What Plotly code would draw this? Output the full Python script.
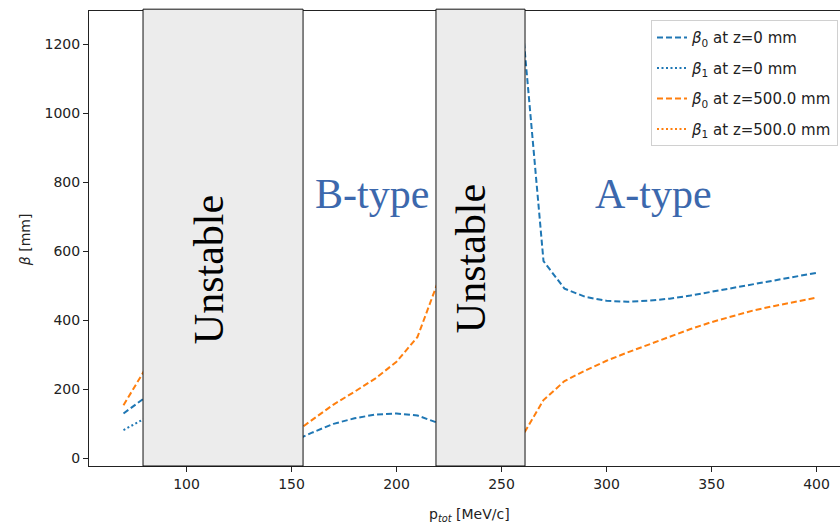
import plotly.graph_objects as go

# ---- data ----
p_tot = [70, 80, 150, 160, 170, 180, 190, 200, 210, 220, 260, 270, 280, 290,
         300, 310, 320, 330, 340, 350, 360, 370, 380, 390, 400]
beta0_z0 = [130, 175, 47, 75, 100, 116, 127, 130, 124, 102, 1255, 572, 492, 468,
            457, 454, 457, 463, 472, 483, 494, 503, 514, 526, 538]
beta1_z0 = [82, 115, None, None, None, None, None, None, None, None, None, None, None, None,
            None, None, None, None, None, None, None, None, None, None, None]
beta0_z500 = [154, 255, 68, 112, 156, 193, 232, 280, 352, 516, 65, 169, 224, 255,
              283, 307, 330, 352, 375, 395, 413, 429, 442, 454, 466]
beta1_z500 = [None] * len(p_tot)

unstable_bands = [(79.3, 155.5), (218.8, 261.2)]
region_labels = ["B-type", "A-type"]

BLUE = "#1f77b4"
ORANGE = "#ff7f0e"

fig = go.Figure()
series = [
    (beta0_z0, BLUE, "6px,3px", "<i>β</i><sub>0</sub> at z=0 mm"),
    (beta1_z0, BLUE, "2px,2.5px", "<i>β</i><sub>1</sub> at z=0 mm"),
    (beta0_z500, ORANGE, "6px,3px", "<i>β</i><sub>0</sub> at z=500.0 mm"),
    (beta1_z500, ORANGE, "2px,2.5px", "<i>β</i><sub>1</sub> at z=500.0 mm"),
]
for i, (ys, col, dash, name) in enumerate(series):
    fig.add_trace(go.Scatter(
        x=p_tot, y=ys, mode="lines", name=name, legendgroup=f"g{i}",
        line=dict(color=col, width=2, dash=dash), connectgaps=False,
    ))

shapes = []
for x0, x1 in unstable_bands:
    shapes.append(dict(type="rect", xref="x", yref="paper", x0=x0, x1=x1, y0=0, y1=1.004,
                       fillcolor="#ececec", line=dict(color="#111", width=1), layer="above"))

annotations = []
for px, py in [(209, 270), (471, 259)]:
    annotations.append(dict(text="Unstable", x=(px - 89) / 751, y=(466 - py) / 455.3,
                            xref="paper", yref="paper", showarrow=False, textangle=-90,
                            xanchor="center", yanchor="middle",
                            font=dict(family="Liberation Serif", size=42, color="#000")))
for lbl, px in zip(region_labels, [371.5, 653.5]):
    annotations.append(dict(text=lbl, x=(px - 89) / 751, y=(466 - 194) / 455.3, xref="paper", yref="paper",
                            showarrow=False, xanchor="center", yanchor="middle",
                            font=dict(family="Liberation Serif", size=42, color="#3c68ad")))
# axis titles
annotations.append(dict(text="p<sub><i>tot</i></sub> [MeV/c]", x=(470 - 89) / 751, y=-(515 - 466) / 455.3,
                        xref="paper", yref="paper", showarrow=False, xanchor="center", yanchor="middle",
                        font=dict(family="DejaVu Sans", size=14, color="#222")))
annotations.append(dict(text="<i>β</i> [mm]", x=-(89 - 25) / 751, y=(466 - 240) / 455.3,
                        xref="paper", yref="paper", showarrow=False, textangle=-90,
                        xanchor="center", yanchor="middle",
                        font=dict(family="DejaVu Sans", size=14, color="#222")))

fig.update_layout(
    width=840, height=525,
    margin=dict(l=89, r=0, t=10.7, b=59),
    paper_bgcolor="white", plot_bgcolor="white",
    shapes=shapes, annotations=annotations,
    showlegend=True,
    legend=dict(x=(651 - 89) / 751, y=(466 - 20) / 455.3, xanchor="left", yanchor="top",
                bgcolor="white", bordercolor="#d0d0d0", borderwidth=1,
                font=dict(family="DejaVu Sans", size=15, color="#222"),
                tracegroupgap=8, traceorder="grouped"),
    xaxis=dict(range=[53.57, 411.19], tickvals=[100, 150, 200, 250, 300, 350, 400],
               showgrid=False, zeroline=False, showline=True, mirror=True,
               linecolor="#222", linewidth=1, ticks="outside", ticklen=5, tickcolor="#222",
               tickfont=dict(family="DejaVu Sans", size=14, color="#222")),
    yaxis=dict(range=[-22.3, 1297.4], tickvals=[0, 200, 400, 600, 800, 1000, 1200],
               showgrid=False, zeroline=False, showline=True, mirror=False,
               linecolor="#222", linewidth=1, ticks="outside", ticklen=5, tickcolor="#222",
               tickfont=dict(family="DejaVu Sans", size=14, color="#222")),
)

fig.write_html("out.html")
